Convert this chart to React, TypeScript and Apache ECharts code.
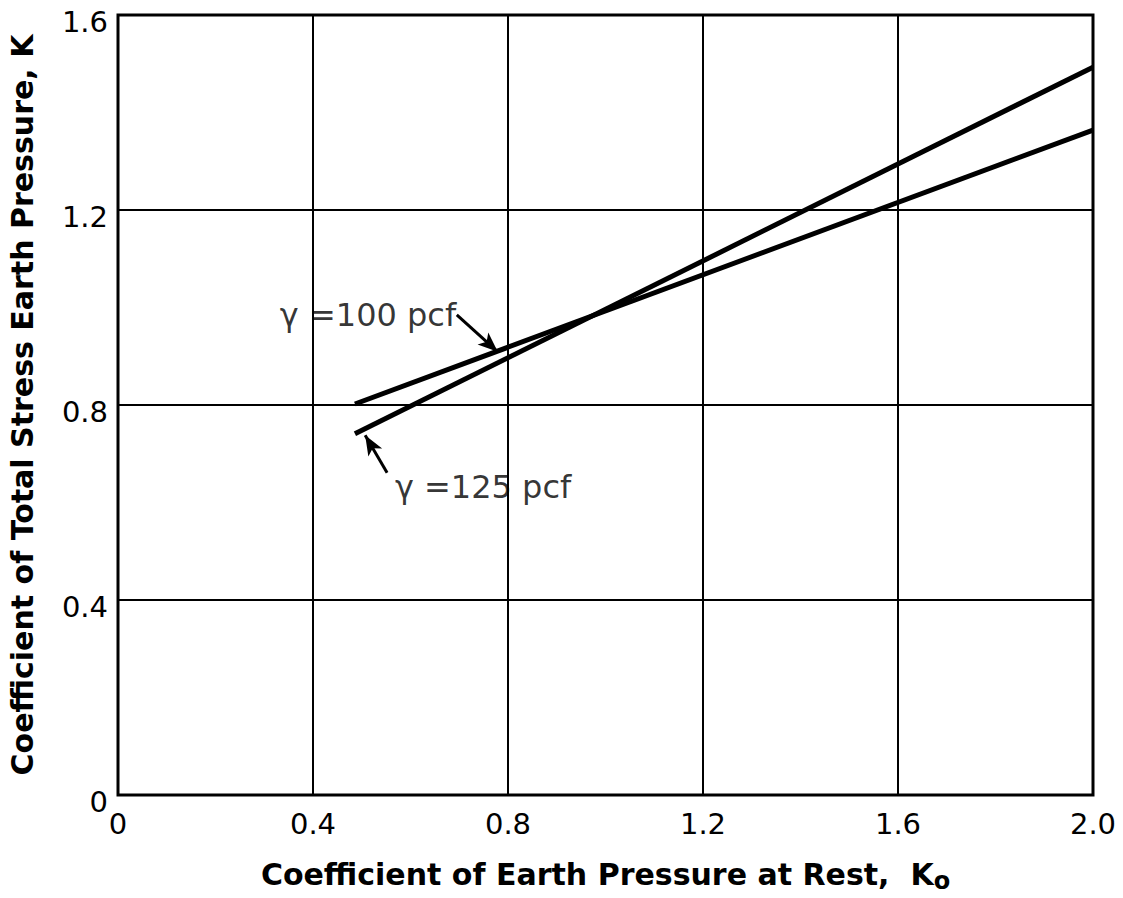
import React, { useEffect, useRef } from "react";
import * as echarts from "echarts";

const xTicks = [0, 0.4, 0.8, 1.2, 1.6, 2.0];
const yTicks = [0, 0.4, 0.8, 1.2, 1.6];
const gamma100: [number, number][] = [[0.486, 0.802], [2.0, 1.364]];
const gamma125: [number, number][] = [[0.486, 0.741], [2.0, 1.493]];
const label100 = "γ =100 pcf";
const label125 = "γ =125 pcf";
const label100Pos: [number, number] = [0.332, 0.985];
const label125Pos: [number, number] = [0.568, 0.632];
const arrow100: [number, number][] = [[0.695, 0.985], [0.779, 0.909]];
const arrow125: [number, number][] = [[0.552, 0.661], [0.507, 0.738]];
const xName = "Coefficient of Earth Pressure at Rest,  K";
const xNameSub = "o";
const yName = "Coefficient of Total Stress Earth Pressure, K";

const FONT = "'DejaVu Sans', sans-serif";

export default function App() {
  const ref = useRef<HTMLDivElement>(null);
  useEffect(() => {
    if (!ref.current) return;
    const chart = echarts.init(ref.current, null, { renderer: "svg" });
    const fmt = (v: number) => (v === 0 ? "0" : v.toFixed(1));
    const lineStyle = { color: "#000", width: 5 };
    const arrowLine = (pts: [number, number][]) => ({
      type: "line",
      data: [],
      markLine: {
        silent: true,
        symbol: ["none", "arrow"],
        symbolSize: [12, 20],
        lineStyle: { color: "#000", width: 3, type: "solid" },
        label: { show: false },
        data: [[{ coord: pts[0] }, { coord: pts[1] }]],
      },
    });
    const textPoint = (pos: [number, number], text: string) => ({
      type: "scatter",
      data: [pos],
      symbolSize: 0,
      silent: true,
      label: {
        show: true,
        position: "right",
        distance: 0,
        formatter: text,
        color: "#000",
        fontSize: 32,
        fontFamily: FONT,
      },
    });
    chart.setOption({
      animation: false,
      backgroundColor: "#fff",
      grid: {
        left: 118,
        right: 30,
        top: 15,
        bottom: 103,
        show: true,
        borderColor: "#000",
        borderWidth: 3,
        outerBoundsMode: "none",
        containLabel: false,
      },
      xAxis: {
        type: "value",
        min: xTicks[0],
        max: xTicks[xTicks.length - 1],
        interval: 0.4,
        axisLine: { show: false },
        axisTick: { show: false },
        splitLine: { show: true, lineStyle: { color: "#000", width: 2 } },
        axisLabel: {
          formatter: fmt,
          color: "#000",
          fontSize: 29,
          lineHeight: 29,
          fontFamily: FONT,
          margin: 14,
        },
        name: xName + "{sub|" + xNameSub + "}",
        nameLocation: "middle",
        nameGap: 60,
        nameTextStyle: {
          color: "#000",
          fontSize: 30,
          fontWeight: "bold",
          fontFamily: FONT,
          rich: {
            sub: {
              fontSize: 24,
              fontWeight: "bold",
              fontFamily: FONT,
              color: "#000",
              padding: [14, 0, 0, 0],
            },
          },
        },
      },
      yAxis: {
        type: "value",
        min: yTicks[0],
        max: yTicks[yTicks.length - 1],
        interval: 0.4,
        axisLine: { show: false },
        axisTick: { show: false },
        splitLine: { show: true, lineStyle: { color: "#000", width: 2 } },
        axisLabel: {
          formatter: fmt,
          color: "#000",
          fontSize: 29,
          lineHeight: 14,
          verticalAlign: "top",
          fontFamily: FONT,
          margin: 10,
        },
        name: yName,
        nameLocation: "middle",
        nameGap: 81,
        nameTextStyle: {
          color: "#000",
          fontSize: 30,
          fontWeight: "bold",
          fontFamily: FONT,
        },
      },
      series: [
        { type: "line", data: gamma100, symbol: "none", lineStyle, silent: true },
        { type: "line", data: gamma125, symbol: "none", lineStyle, silent: true },
        arrowLine(arrow100),
        arrowLine(arrow125),
        textPoint(label100Pos, label100),
        textPoint(label125Pos, label125),
      ],
    });
    return () => chart.dispose();
  }, []);
  return (
    <div
      ref={ref}
      style={{ position: "fixed", left: 0, top: 0, width: 1123, height: 898 }}
    />
  );
}
